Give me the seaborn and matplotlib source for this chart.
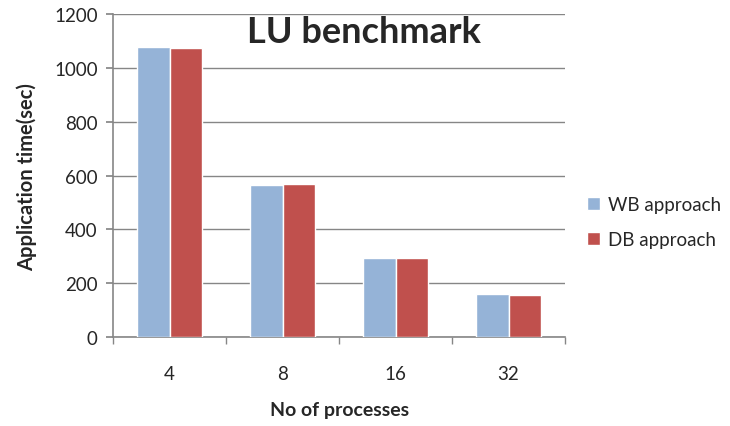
import matplotlib
matplotlib.use("Agg")
import matplotlib.pyplot as plt
import pandas as pd
import seaborn as sns

processes = ["4", "8", "16", "32"]
wb_times = [1078, 565, 293, 160]
db_times = [1073, 568, 293, 155]
series_names = ["WB approach", "DB approach"]
colors = ["#95B3D7", "#C0504D"]

df = pd.DataFrame({
    "processes": processes * 2,
    "time": wb_times + db_times,
    "approach": [series_names[0]] * 4 + [series_names[1]] * 4,
})

sns.set_theme(style="white")
plt.rcParams["font.family"] = ["Lato", "DejaVu Sans"]

fig = plt.figure(figsize=(7.3, 4.27), dpi=100)
ax = fig.add_axes([0.155, 0.208, 0.619, 0.757])

sns.barplot(data=df, x="processes", y="time", hue="approach", order=processes,
            hue_order=series_names, palette=colors, width=0.58, saturation=1,
            ax=ax, zorder=3)

grid_col = "#868686"
ax.set_ylim(0, 1200)
ax.set_yticks(range(0, 1201, 200))
ax.set_xlim(-0.5, 3.5)
ax.yaxis.grid(True, color=grid_col, linewidth=1)
ax.set_axisbelow(True)
for s in ["top", "right"]:
    ax.spines[s].set_visible(False)
for s in ["left", "bottom"]:
    ax.spines[s].set_color(grid_col)
    ax.spines[s].set_linewidth(1.2)

ax.tick_params(axis="y", which="major", left=True, length=5, color=grid_col,
               labelsize=13.5, pad=6)
ax.tick_params(axis="x", which="major", bottom=False, labelsize=13.5, pad=14)
ax.set_xticks([-0.5, 0.5, 1.5, 2.5, 3.5], minor=True)
ax.tick_params(axis="x", which="minor", bottom=True, length=5, color=grid_col)

ax.set_xlabel("No of processes", fontsize=14, fontweight="bold", labelpad=14)
ax.set_ylabel("Application time(sec)", fontsize=14.5, fontweight="bold", labelpad=12)

ax.text(0.555, 0.945, "LU benchmark", transform=ax.transAxes, ha="center",
        va="center", fontsize=26, fontweight="bold")

ax.legend(loc="center left", bbox_to_anchor=(1.02, 0.356), frameon=False,
          fontsize=13.5, handlelength=0.7, handleheight=0.7, labelspacing=1.0,
          handletextpad=0.4, borderaxespad=0.3)

fig.savefig("out.png", dpi=100)
